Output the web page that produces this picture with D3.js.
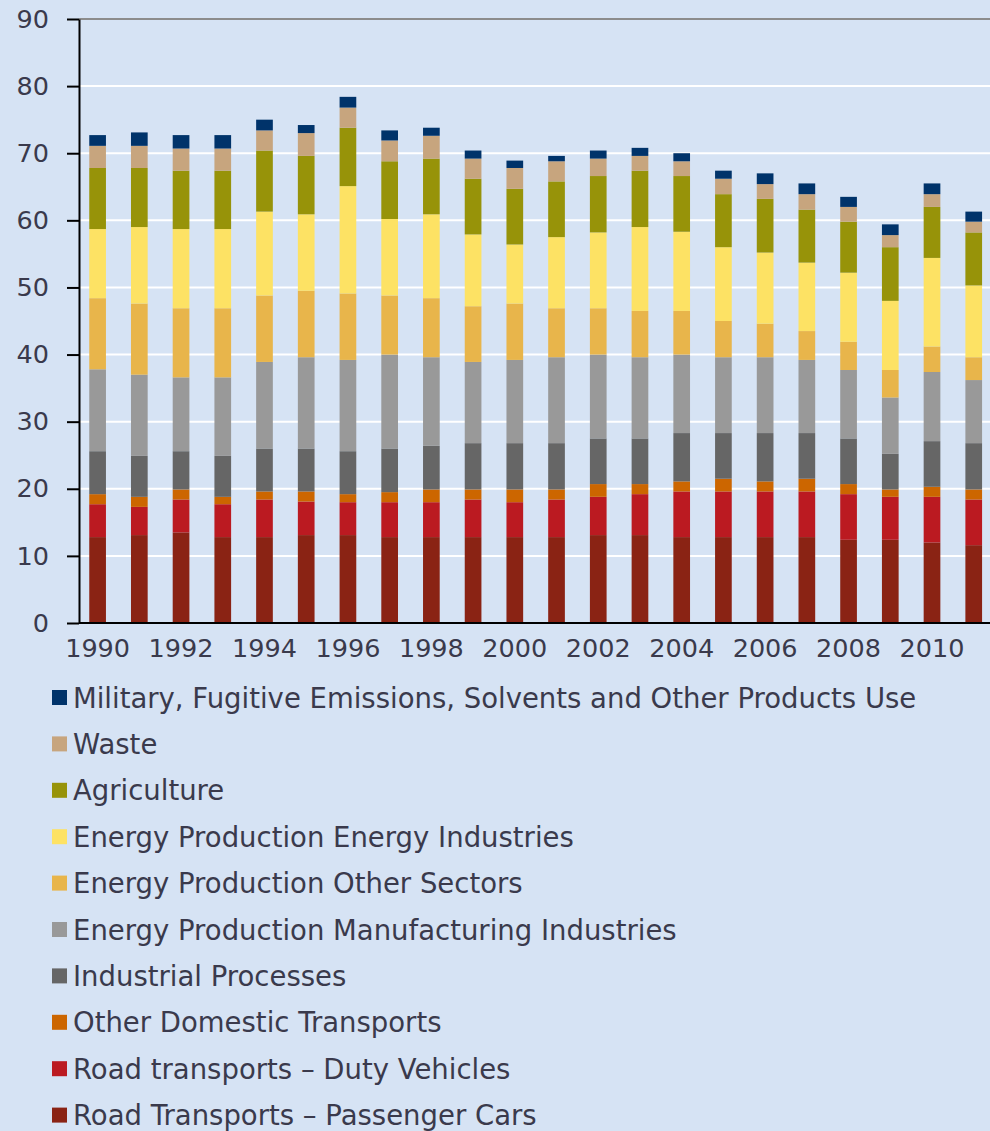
<!DOCTYPE html>
<html>
<head>
<meta charset="utf-8">
<script src="https://cdn.jsdelivr.net/npm/d3@7"></script>
<style>
  html, body { margin: 0; padding: 0; background: #d6e3f4; }
  svg { display: block; }
</style>
</head>
<body>
<svg id="chart" width="990" height="1131" viewBox="0 0 990 1131"></svg>
<script>
// Years on the x axis
const years = d3.range(1990, 2012)

// Series, bottom of the stack first
const series = [
  "Road Transports \u2013 Passenger Cars",
  "Road transports \u2013 Duty Vehicles",
  "Other Domestic Transports",
  "Industrial Processes",
  "Energy Production Manufacturing Industries",
  "Energy Production Other Sectors",
  "Energy Production Energy Industries",
  "Agriculture",
  "Waste",
  "Military, Fugitive Emissions, Solvents and Other Products Use"
]
const colors = ["#8a2314", "#bb1a21", "#cc6600", "#666666", "#999999",
                "#e8b54b", "#fde264", "#979309", "#c7a57e", "#00336a"]

// values, one array per series (1990..2011)
const passengerCars = [12.8, 13.1, 13.5, 12.8, 12.8, 13.1, 13.1, 12.8, 12.8, 12.8, 12.8, 12.8, 13.1, 13.1, 12.8, 12.8, 12.8, 12.8, 12.4, 12.4, 12.0, 11.6]
const dutyVehicles  = [4.9, 4.2, 4.9, 4.9, 5.6, 5.0, 4.9, 5.2, 5.2, 5.6, 5.2, 5.6, 5.7, 6.1, 6.8, 6.8, 6.8, 6.8, 6.8, 6.4, 6.8, 6.8]
const otherDomestic = [1.5, 1.5, 1.5, 1.1, 1.2, 1.5, 1.2, 1.5, 1.9, 1.5, 1.9, 1.5, 1.9, 1.5, 1.5, 1.9, 1.5, 1.9, 1.5, 1.1, 1.5, 1.5]
const industrial    = [6.4, 6.1, 5.7, 6.1, 6.4, 6.4, 6.4, 6.5, 6.5, 6.9, 6.9, 6.9, 6.8, 6.8, 7.2, 6.8, 7.2, 6.8, 6.8, 5.3, 6.8, 6.9]
const manufacturing = [12.2, 12.1, 11.0, 11.7, 12.9, 13.6, 13.6, 14.0, 13.2, 12.1, 12.4, 12.8, 12.5, 12.1, 11.7, 11.3, 11.3, 10.9, 10.2, 8.4, 10.3, 9.4]
const otherSectors  = [10.6, 10.6, 10.3, 10.3, 9.9, 9.9, 9.9, 8.8, 8.8, 8.3, 8.4, 7.3, 6.9, 6.9, 6.5, 5.4, 5.0, 4.3, 4.2, 4.1, 3.8, 3.4]
const energyInd     = [10.3, 11.4, 11.8, 11.8, 12.5, 11.4, 16.0, 11.4, 12.5, 10.7, 8.8, 10.6, 11.3, 12.5, 11.8, 11.0, 10.6, 10.2, 10.3, 10.3, 13.2, 10.7]
const agriculture   = [9.1, 8.8, 8.7, 8.7, 9.1, 8.7, 8.7, 8.6, 8.3, 8.3, 8.3, 8.3, 8.4, 8.4, 8.3, 7.9, 8.0, 7.9, 7.6, 8.0, 7.6, 7.9]
const waste         = [3.3, 3.3, 3.3, 3.3, 3.0, 3.4, 3.0, 3.1, 3.4, 3.0, 3.1, 3.0, 2.6, 2.2, 2.2, 2.3, 2.2, 2.3, 2.2, 1.8, 1.9, 1.6]
const military      = [1.6, 2.0, 2.0, 2.0, 1.6, 1.2, 1.6, 1.5, 1.2, 1.2, 1.1, 0.8, 1.2, 1.2, 1.2, 1.2, 1.6, 1.6, 1.5, 1.6, 1.6, 1.5]

const yTicks = d3.range(0, 91, 10)
const xLabels = years.filter(d => d % 2 === 0)

const allValues = [passengerCars, dutyVehicles, otherDomestic, industrial, manufacturing,
                   otherSectors, energyInd, agriculture, waste, military]

// table for d3.stack
const table = years.map((yr, i) => {
  const row = { year: yr }
  series.forEach((s, j) => { row[s] = allValues[j][i] })
  return row
})

const FONT = "'DejaVu Sans', Verdana, sans-serif"
const TEXT = "#3a3a4c"

const svg = d3.select("#chart")
const width = 990

const x = d3.scaleBand()
  .domain(years)
  .range([79, 79 + 41.72 * years.length])
  .paddingInner(0.6)
  .paddingOuter(0.3)
  .align(0.41)

const y = d3.scaleLinear()
  .domain([0, 90])
  .range([623, 19])

const color = d3.scaleOrdinal().domain(series).range(colors)

// gridlines
svg.append("g")
  .selectAll("line")
  .data(yTicks.filter(d => d > 0 && d < 90))
  .enter()
  .append("line")
  .attr("x1", 79).attr("x2", width)
  .attr("y1", d => y(d)).attr("y2", d => y(d))
  .attr("stroke", "#ffffff")
  .attr("stroke-width", 2)

svg.append("line")
  .attr("x1", 79).attr("x2", width)
  .attr("y1", y(90)).attr("y2", y(90))
  .attr("stroke", "#8c8c8c")
  .attr("stroke-width", 2)

// stacked bars
const stacked = d3.stack().keys(series)(table)

svg.append("g")
  .selectAll("g")
  .data(stacked)
  .enter()
  .append("g")
  .attr("fill", d => color(d.key))
  .selectAll("rect")
  .data(d => d)
  .enter()
  .append("rect")
  .attr("x", d => x(d.data.year))
  .attr("width", x.bandwidth())
  .attr("y", d => y(d[1]))
  .attr("height", d => y(d[0]) - y(d[1]))

// y axis
const yAxis = svg.append("g")
  .attr("transform", "translate(79,0)")
  .call(d3.axisLeft(y).tickValues(yTicks).tickSize(12).tickSizeOuter(0).tickPadding(18))
yAxis.attr("font-family", FONT).attr("font-size", 25.5)
yAxis.select(".domain").attr("stroke", "#000").attr("stroke-width", 2)
yAxis.selectAll(".tick line").attr("stroke", "#000").attr("stroke-width", 2)
yAxis.selectAll("text").attr("fill", TEXT)

// x axis
const xAxis = svg.append("g")
  .attr("transform", `translate(0,${y(0)})`)
  .call(d3.axisBottom(x).tickValues(xLabels).tickSize(0).tickPadding(16))
xAxis.attr("font-family", FONT).attr("font-size", 25.5)
xAxis.select(".domain").remove()
xAxis.selectAll("text").attr("fill", TEXT)

svg.append("line")
  .attr("x1", 79).attr("x2", width)
  .attr("y1", y(0)).attr("y2", y(0))
  .attr("stroke", "#000")
  .attr("stroke-width", 2)

// legend, top of the stack first
const legend = svg.append("g")
  .attr("font-family", FONT)
  .attr("font-size", 27.5)
  .selectAll("g")
  .data(series.slice().reverse())
  .enter()
  .append("g")
  .attr("transform", (d, i) => `translate(52,${697.5 + i * 46.4})`)

legend.append("rect")
  .attr("x", 0).attr("y", -7.5)
  .attr("width", 15).attr("height", 15)
  .attr("fill", d => color(d))

legend.append("text")
  .attr("x", 21)
  .attr("y", 10)
  .attr("fill", TEXT)
  .text(d => d)
</script>
</body>
</html>
